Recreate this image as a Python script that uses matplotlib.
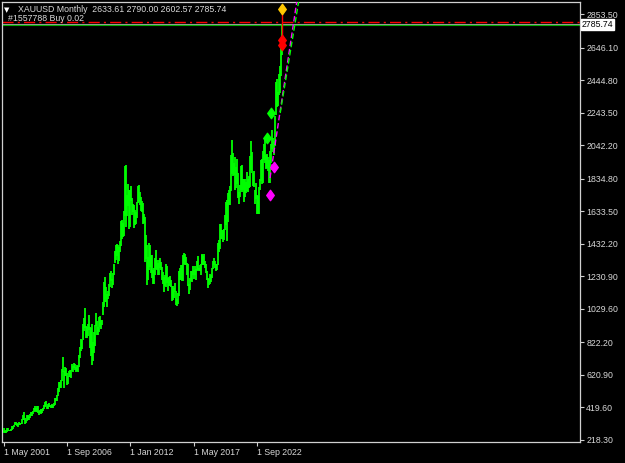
import matplotlib
matplotlib.use("Agg")
import matplotlib.pyplot as plt
from matplotlib.path import Path
import numpy as np

# ---- data (monthly XAUUSD, starting May 2001) ----
start_year, start_month = 2001, 5
high = [
    293, 277, 271, 280, 294, 293, 282, 282,
    289, 304, 305, 311, 327, 330, 323, 315, 327, 325, 322, 349,
    375, 390, 353, 341, 376, 371, 367, 378, 390, 392, 399, 417,
    428, 418, 431, 427, 398, 403, 410, 413, 419, 432, 455, 457,
    427, 440, 447, 437, 436, 442, 437, 447, 475, 481, 497, 540,
    575, 575, 590, 655, 730, 646, 671, 663, 632, 617, 647, 649,
    652, 690, 673, 693, 689, 672, 683, 678, 745, 795, 845, 838,
    933, 975, 1033, 924, 916, 938, 990, 915, 912, 935, 827, 888,
    928, 1006, 957, 915, 981, 988, 960, 960, 1025, 1070, 1195, 1227,
    1162, 1124, 1137, 1185, 1249, 1265, 1212, 1253, 1308, 1388, 1424, 1431,
    1424, 1411, 1447, 1576, 1578, 1560, 1632, 1913, 1921, 1735, 1804, 1764,
    1764, 1791, 1715, 1677, 1669, 1641, 1630, 1692, 1790, 1796, 1755, 1723,
    1694, 1685, 1616, 1600, 1487, 1424, 1348, 1434, 1424, 1361, 1362, 1267,
    1280, 1345, 1392, 1331, 1315, 1332, 1345, 1322, 1287, 1255, 1225, 1239,
    1307, 1293, 1220, 1224, 1232, 1205, 1173, 1170, 1157, 1191, 1142, 1088,
    1128, 1263, 1283, 1303, 1303, 1362, 1375, 1367, 1352, 1314, 1306, 1181,
    1220, 1264, 1261, 1295, 1270, 1296, 1274, 1326, 1358, 1282, 1299, 1306,
    1366, 1362, 1356, 1369, 1326, 1309, 1266, 1218, 1214, 1243, 1237, 1284,
    1326, 1346, 1324, 1310, 1306, 1439, 1453, 1555, 1557, 1517, 1516, 1524,
    1611, 1689, 1704, 1747, 1765, 1789, 1981, 2075, 1993, 1933, 1966, 1907,
    1959, 1871, 1755, 1798, 1913, 1917, 1832, 1834, 1834, 1813, 1877, 1831,
    1853, 1974, 2070, 1998, 1870, 1880, 1767, 1808, 1735, 1729, 1786, 1833,
    1949, 1959, 2009, 2048, 2079, 1984, 1987, 1966, 1953, 2009, 2052, 2135,
    2088, 2065, 2222, 2431, 2450, 2368, 2483, 2531, 2685, 2790.00,
]
low = [
    264, 266, 264, 263, 270, 276, 272, 272,
    276, 282, 288, 300, 308, 314, 302, 299, 311, 312, 315, 317,
    343, 345, 320, 325, 338, 339, 342, 354, 369, 367, 380, 394,
    399, 390, 392, 386, 372, 385, 381, 385, 399, 412, 425, 428,
    413, 411, 425, 424, 414, 417, 417, 429, 433, 458, 459, 489,
    517, 537, 537, 583, 640, 543, 613, 616, 561, 565, 605, 607,
    603, 645, 636, 662, 650, 641, 648, 642, 670, 723, 768, 780,
    834, 890, 912, 850, 851, 862, 901, 786, 740, 681, 704, 755,
    802, 922, 866, 865, 884, 918, 908, 931, 990, 1025, 1043, 1075,
    1074, 1044, 1088, 1112, 1164, 1202, 1157, 1177, 1240, 1312, 1333, 1356,
    1309, 1324, 1381, 1418, 1463, 1477, 1478, 1604, 1535, 1604, 1668, 1523,
    1538, 1695, 1613, 1627, 1527, 1547, 1556, 1591, 1686, 1693, 1672, 1636,
    1626, 1554, 1562, 1321, 1338, 1180, 1208, 1270, 1291, 1251, 1221, 1186,
    1182, 1239, 1277, 1268, 1240, 1240, 1281, 1271, 1206, 1183, 1131, 1168,
    1167, 1191, 1142, 1171, 1170, 1162, 1077, 1084, 1098, 1136, 1052, 1046,
    1062, 1111, 1208, 1208, 1200, 1199, 1310, 1301, 1302, 1241, 1171, 1124,
    1146, 1200, 1195, 1241, 1214, 1236, 1205, 1262, 1271, 1261, 1265, 1236,
    1303, 1307, 1303, 1301, 1281, 1251, 1211, 1160, 1180, 1182, 1196, 1221,
    1276, 1302, 1281, 1266, 1267, 1300, 1382, 1400, 1459, 1459, 1445, 1454,
    1517, 1547, 1451, 1568, 1670, 1671, 1757, 1863, 1849, 1860, 1764, 1775,
    1802, 1717, 1677, 1720, 1766, 1750, 1767, 1688, 1721, 1746, 1759, 1753,
    1780, 1781, 1890, 1872, 1787, 1785, 1681, 1709, 1615, 1618, 1616, 1765,
    1823, 1804, 1810, 1949, 1932, 1893, 1903, 1885, 1810, 1810, 1931, 2016,
    2001, 1984, 2039, 2228, 2277, 2286, 2353, 2364, 2471, 2602.57,
]
last_ohlc = [2633.61, 2790.00, 2602.57, 2785.74]

y_ticks = [2853.50, 2646.10, 2444.80, 2243.50, 2042.20, 1834.80, 1633.50,
           1432.20, 1230.90, 1029.60, 822.20, 620.90, 419.60, 218.30]
x_tick_idx = [0, 64, 128, 192, 256]
x_tick_labels = ["1 May 2001", "1 Sep 2006", "1 Jan 2012", "1 May 2017", "1 Sep 2022"]

# markers (bar index, price)
yellow_pts = [(281, 2884)]
red_pts = [(281, 2693), (281, 2664)]
green_pts = [(270.2, 2239), (265.9, 2084)]
magenta_pts = [(273.2, 1905), (268.9, 1734)]
magenta_line = [(269.2, 1839), (296.5, 2940)]
green_line = [(279.5, 2241), (298.5, 2945)]
red_hline = 2801
gray_hline = 2791
green_hline = 2784
price_label = "2785.74"
header = "XAUUSD Monthly  2633.61 2790.00 2602.57 2785.74"
order_text = "#1557788 Buy 0.02"

# ---- figure ----
W, H = 625, 463
fig = plt.figure(figsize=(W / 100, H / 100), dpi=100, facecolor="black")
ax_l, ax_r, ax_t, ax_b = 2, 580, 1.5, 442
ax = fig.add_axes([ax_l / W, 1 - ax_b / H, (ax_r - ax_l) / W, (ax_b - ax_t) / H])
ax.set_facecolor("black")

px_per_bar = 0.99
x0px = 3.5
ax.set_xlim((ax_l - x0px) / px_per_bar, (ax_r - x0px) / px_per_bar)
ppx = 6.186
ax.set_ylim(2853.5 - (ax_b - 14) * ppx, 2853.5 + (14 - ax_t) * ppx)

idx = np.arange(len(high))
ax.vlines(idx, low, high, colors="#00ff00", linewidth=1.3, zorder=3)

# horizontal lines
ax.axhline(red_hline, color="#ff0000", lw=1.0, dashes=(8, 3, 1.5, 3), zorder=2)
ax.axhline(gray_hline, color="#9a9a9a", lw=0.8, zorder=2)
ax.axhline(green_hline, color="#00b000", lw=0.8, zorder=2)

# trend lines
ax.plot([p[0] for p in magenta_line], [p[1] for p in magenta_line],
        color="#ff00ff", lw=1.0, dashes=(4, 2), zorder=4)
ax.plot([p[0] for p in green_line], [p[1] for p in green_line],
        color="#00ff00", lw=1.0, dashes=(4, 2), zorder=4)

# red vertical connector
ax.plot([yellow_pts[0][0], red_pts[0][0]], [yellow_pts[0][1], red_pts[0][1]],
        color="#ff0000", lw=1.0, zorder=4)

diamond = Path([(0, 1), (0.72, 0), (0, -1), (-0.72, 0), (0, 1)],
               [Path.MOVETO, Path.LINETO, Path.LINETO, Path.LINETO, Path.CLOSEPOLY])
def mk(pts, color):
    ax.plot([p[0] for p in pts], [p[1] for p in pts], linestyle="none",
            marker=diamond, markersize=7.5, markerfacecolor=color,
            markeredgecolor=color, zorder=5)
mk(yellow_pts, "#ffc800")
mk(red_pts, "#ff0000")
mk(green_pts, "#00ff00")
mk(magenta_pts, "#ff00ff")

# spines / ticks
for s in ax.spines.values():
    s.set_color("#d0d0d0")
    s.set_linewidth(0.9)
ax.yaxis.tick_right()
ax.set_yticks(y_ticks)
ax.set_yticklabels([f"{v:.2f}" for v in y_ticks])
ax.set_xticks(x_tick_idx)
ax.set_xticklabels(x_tick_labels, ha="left")
ax.tick_params(colors="#d0d0d0", labelcolor="#d8d8d8", length=3, width=0.8,
               labelsize=6.3, pad=1.5)
for lab in ax.get_xticklabels() + ax.get_yticklabels():
    lab.set_fontfamily("Liberation Sans")

# price label box
ax.text(1.003, (green_hline + gray_hline) / 2 - 1, price_label,
        transform=ax.get_yaxis_transform(), ha="left", va="center",
        fontsize=6.3, family="Liberation Sans", color="black",
        bbox=dict(boxstyle="square,pad=0.12", facecolor="white", edgecolor="white"),
        zorder=10, clip_on=False)

# header text
fig.text(7 / W, 1 - 10 / H, "\u25bc", color="white", fontsize=5, ha="center",
         va="center", family="DejaVu Sans")
fig.text(18 / W, 1 - 10 / H, header,
         color="#d8d8d8", fontsize=6.3, family="Liberation Sans",
         ha="left", va="center")
fig.text(8 / W, 1 - 18.5 / H, order_text, color="#d8d8d8", fontsize=6.3,
         family="Liberation Sans", ha="left", va="center")

fig.savefig("out.png", dpi=100, facecolor="black")
